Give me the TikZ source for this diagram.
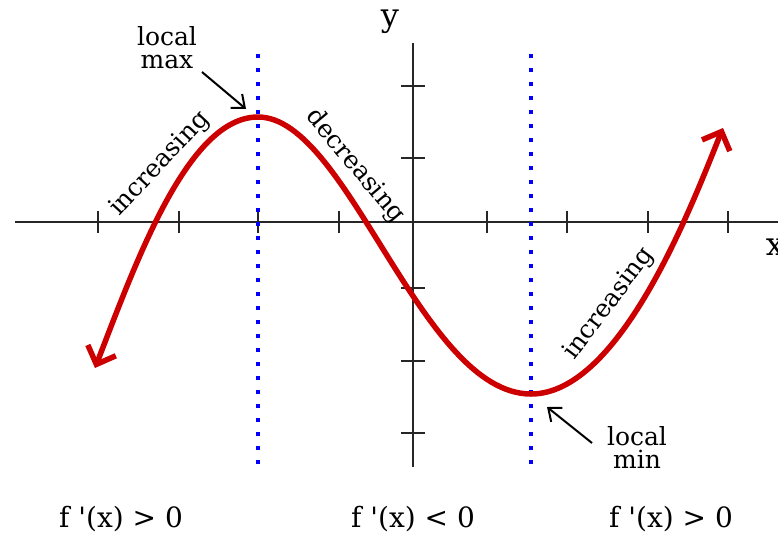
\documentclass[tikz,border=0pt]{standalone}
\usepackage{fontspec}
\setmainfont{DejaVu Serif}
\usetikzlibrary{arrows.meta}
\definecolor{curvered}{RGB}{204,0,0}
\definecolor{dotblue}{RGB}{0,0,255}
\begin{document}
\begin{tikzpicture}[x=1pt,y=-1pt,
  axis/.style={line width=1.8pt, black!85},
  tickmark/.style={line width=1.8pt, black!85},
  guide/.style={dotblue, line width=3.5pt, dash pattern=on 3.5pt off 10.5pt},
  curve/.style={curvered, line width=5.5pt,
    {Straight Barb[length=15pt,width=30pt]}-{Straight Barb[length=15pt,width=30pt]}},
  lbl/.style={font=\fontsize{25}{23}\selectfont, inner sep=0pt, align=center},
  axlbl/.style={font=\fontsize{32}{32}\selectfont, inner sep=0pt},
  cond/.style={font=\fontsize{28}{28}\selectfont, inner sep=0pt, anchor=base},
  pointer/.style={line width=2pt, -{Straight Barb[length=11pt,width=18pt]}}
]
\useasboundingbox (0,0) rectangle (778,536);

% axes
\coordinate (xl) at (15,222);
\coordinate (xr) at (778,222);
\coordinate (yt) at (413,43);
\coordinate (yb) at (413,467);
\draw[axis] (xl) -- (xr);
\draw[axis] (yt) -- (yb);
\foreach \t in {98,179,258,339,487,567,648,728}
  \draw[tickmark] (\t,211) -- (\t,233);
\foreach \t in {86,158,288,361,433}
  \draw[tickmark] (401,\t) -- (425,\t);

\node[axlbl] (ylab) at (390,22) {y};
\node[axlbl] (xlab) at (775,247) {x};

% guide lines
\coordinate (g1t) at (258,54);
\coordinate (g1b) at (258,464);
\coordinate (g2t) at (531,54);
\coordinate (g2b) at (531,464);
\draw[guide] (g1t) -- (g1b);
\draw[guide] (g2t) -- (g2b);

% curve
\coordinate (tipL) at (95,368);
\coordinate (cmax) at (258,117);
\coordinate (cmin) at (531,394);
\coordinate (tipR) at (723,128);
\draw[curve] (tipL) .. controls (136.4,261) and (188,117) .. (cmax)
  .. controls (348,117) and (421,394) .. (cmin)
  .. controls (621,394) and (693,202) .. (tipR);

% labels
\node[lbl] (lmax) at (167,48) {local\\max};
\node[lbl] (lmin) at (637,447) {local\\min};
\coordinate (maxfrom) at (202,72);
\coordinate (maxtip) at (246,109);
\coordinate (minfrom) at (592,443);
\coordinate (mintip) at (547,407);
\draw[pointer] (maxfrom) -- (maxtip);
\draw[pointer] (minfrom) -- (mintip);

\node[lbl, rotate=47] (inc1) at (160,164) {increasing};
\node[lbl, rotate=-50] (dec) at (355,166) {decreasing};
\node[lbl, rotate=53] (inc2) at (609,304) {increasing};

\node[cond] (c1) at (121,527) {f \textquotesingle(x) > 0};
\node[cond] (c2) at (413,527) {f \textquotesingle(x) < 0};
\node[cond] (c3) at (671,527) {f \textquotesingle(x) > 0};
\end{tikzpicture}
\end{document}
